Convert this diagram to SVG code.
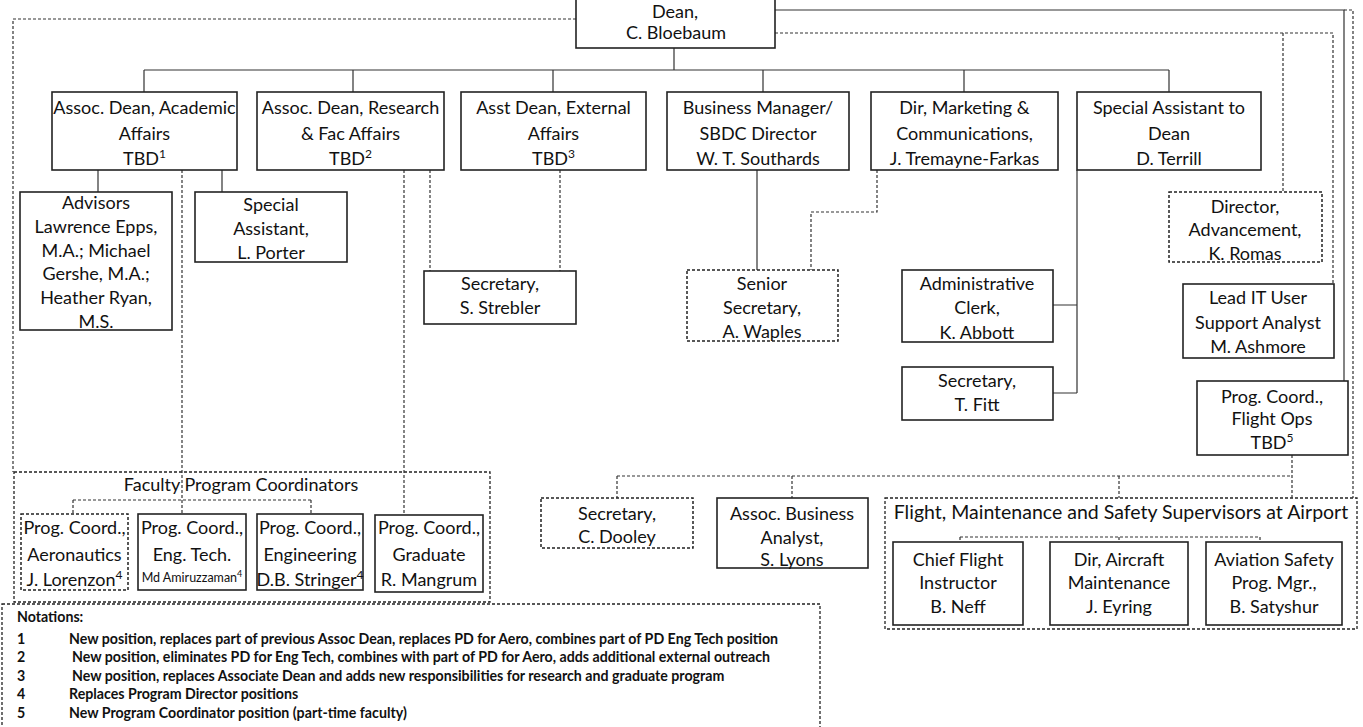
<svg xmlns="http://www.w3.org/2000/svg" width="1363" height="727" viewBox="0 0 1363 727">
<style>
.box{fill:#fff;stroke:#222;stroke-width:1.6}
.dbox{fill:#fff;stroke:#222;stroke-width:1.5;stroke-dasharray:3 2}
.grp{fill:none;stroke:#222;stroke-width:1.3;stroke-dasharray:3 2}
.ln{fill:none;stroke:#333;stroke-width:1.2}
.dl{fill:none;stroke:#333;stroke-width:1.2;stroke-dasharray:3 2}
text{font-family:Lato,"Liberation Sans",sans-serif;fill:#111}
.t{font-size:18px;text-anchor:middle}
.s{font-size:12px}
.n{font-size:14.2px;font-weight:bold}
</style>
<rect width="1363" height="727" fill="#fff"/>
<g id="containers">
<rect id="faculty-group" class="grp" x="14" y="472" width="476" height="130"/>
<rect id="flight-group" class="grp" x="885" y="498" width="472" height="131"/>
<rect id="notations" class="grp" x="2" y="604" width="818" height="140"/>
</g>
<g id="connectors">
<path class="ln" d="M674 48V70M144 70H1169M144 70V92M353 70V92M553 70V92M763 70V92M964 70V92M1169 70V92"/>
<path class="ln" d="M98 170V192M222 170V192M757 170V270M1077 170V393M1053 305H1077M1053 393H1077M775 10H1344V381"/>
<path class="dl" d="M576 19H13V472"/>
<path class="dl" d="M182 170V500M73 500H311M73 500V514M182 500V514M311 500V514"/>
<path class="dl" d="M404 170V515M430 170V271M560 170V271"/>
<path class="dl" d="M877 170V212H811V270"/>
<path class="dl" d="M775 33H1333V284M1283 33V192M1344 10H1353V498"/>
<path class="dl" d="M1292 455V498M617 476H1292M617 476V498M792 476V498M1119 476V498"/>
<path class="dl" d="M960 537H1260M960 537V542M1119 537V542M1260 537V542"/>
</g>
<g id="dean"><rect class="box" x="576" y="-2" width="199" height="50"/>
<text class="t" x="675" y="18">Dean,</text><text class="t" x="676" y="39">C. Bloebaum</text></g>
<g id="academic"><rect class="box" x="52" y="92" width="185" height="78"/>
<text class="t" x="144.5" y="114">Assoc. Dean, Academic</text><text class="t" x="144.5" y="140">Affairs</text><text class="t" x="144.5" y="165">TBD<tspan class="s" dy="-7">1</tspan></text></g>
<g id="research"><rect class="box" x="257" y="92" width="187" height="78"/>
<text class="t" x="350.5" y="114">Assoc. Dean, Research</text><text class="t" x="350.5" y="140">&amp; Fac Affairs</text><text class="t" x="350.5" y="165">TBD<tspan class="s" dy="-7">2</tspan></text></g>
<g id="external"><rect class="box" x="461" y="92" width="185" height="78"/>
<text class="t" x="553.5" y="114">Asst Dean, External</text><text class="t" x="553.5" y="140">Affairs</text><text class="t" x="553.5" y="165">TBD<tspan class="s" dy="-7">3</tspan></text></g>
<g id="business"><rect class="box" x="667" y="92" width="182" height="78"/>
<text class="t" x="758" y="114">Business Manager/</text><text class="t" x="758" y="140">SBDC Director</text><text class="t" x="758" y="165">W. T. Southards</text></g>
<g id="marketing"><rect class="box" x="871" y="92" width="187" height="78"/>
<text class="t" x="964.5" y="114">Dir, Marketing &amp;</text><text class="t" x="964.5" y="140">Communications,</text><text class="t" x="964.5" y="165">J. Tremayne-Farkas</text></g>
<g id="special-assistant-dean"><rect class="box" x="1077" y="92" width="184" height="78"/>
<text class="t" x="1169" y="114">Special Assistant to</text><text class="t" x="1169" y="140">Dean</text><text class="t" x="1169" y="165">D. Terrill</text></g>
<g id="advisors"><rect class="box" x="20" y="192" width="152" height="138"/>
<text class="t" x="96" y="209">Advisors</text><text class="t" x="96" y="233">Lawrence Epps,</text><text class="t" x="96" y="257">M.A.; Michael</text><text class="t" x="96" y="280">Gershe, M.A.;</text><text class="t" x="96" y="304">Heather Ryan,</text><text class="t" x="96" y="328">M.S.</text></g>
<g id="special-assistant-porter"><rect class="box" x="195" y="192" width="152" height="70"/>
<text class="t" x="271" y="211">Special</text><text class="t" x="271" y="235">Assistant,</text><text class="t" x="271" y="259">L. Porter</text></g>
<g id="secretary-strebler"><rect class="box" x="424" y="271" width="152" height="53"/>
<text class="t" x="500" y="290">Secretary,</text><text class="t" x="500" y="314">S. Strebler</text></g>
<g id="senior-secretary"><rect class="dbox" x="687" y="270" width="151" height="71"/>
<text class="t" x="762" y="290">Senior</text><text class="t" x="762" y="314">Secretary,</text><text class="t" x="762" y="338">A. Waples</text></g>
<g id="admin-clerk"><rect class="box" x="902" y="270" width="151" height="72"/>
<text class="t" x="977" y="290">Administrative</text><text class="t" x="977" y="314">Clerk,</text><text class="t" x="977" y="339">K. Abbott</text></g>
<g id="secretary-fitt"><rect class="box" x="902" y="367" width="151" height="53"/>
<text class="t" x="977" y="387">Secretary,</text><text class="t" x="977" y="411">T. Fitt</text></g>
<g id="director-advancement"><rect class="dbox" x="1169" y="192" width="153" height="70"/>
<text class="t" x="1245" y="213">Director,</text><text class="t" x="1245" y="236">Advancement,</text><text class="t" x="1245" y="260">K. Romas</text></g>
<g id="lead-it"><rect class="box" x="1183" y="284" width="151" height="74"/>
<text class="t" x="1258" y="304">Lead IT User</text><text class="t" x="1258" y="329">Support Analyst</text><text class="t" x="1258" y="353">M. Ashmore</text></g>
<g id="flight-ops"><rect class="box" x="1197" y="381" width="151" height="74"/>
<text class="t" x="1272" y="403">Prog. Coord.,</text><text class="t" x="1272" y="425">Flight Ops</text><text class="t" x="1272" y="449">TBD<tspan class="s" dy="-7">5</tspan></text></g>
<g id="faculty-title"><text class="t" x="241" y="491">Faculty Program Coordinators</text></g>
<g id="pc-aero"><rect class="dbox" x="21" y="514" width="107" height="76"/>
<text class="t" x="74.5" y="534">Prog. Coord.,</text><text class="t" x="74.5" y="561">Aeronautics</text><text class="t" x="74.5" y="586">J. Lorenzon<tspan class="s" dy="-7">4</tspan></text></g>
<g id="pc-engtech"><rect class="box" x="138" y="514" width="108" height="76"/>
<text class="t" x="192" y="534">Prog. Coord.,</text><text class="t" x="192" y="561">Eng. Tech.</text><text x="192" y="582" text-anchor="middle" font-size="12.5">Md Amiruzzaman<tspan font-size="9" dy="-5">4</tspan></text></g>
<g id="pc-eng"><rect class="box" x="257" y="514" width="106" height="76"/>
<text class="t" x="310" y="534">Prog. Coord.,</text><text class="t" x="310" y="561">Engineering</text><text class="t" x="310" y="586">D.B. Stringer<tspan class="s" dy="-7">4</tspan></text></g>
<g id="pc-grad"><rect class="box" x="375" y="515" width="108" height="77"/>
<text class="t" x="429" y="534">Prog. Coord.,</text><text class="t" x="429" y="561">Graduate</text><text class="t" x="429" y="586">R. Mangrum</text></g>
<g id="secretary-dooley"><rect class="dbox" x="541" y="498" width="152" height="50"/>
<text class="t" x="617" y="520">Secretary,</text><text class="t" x="617" y="543">C. Dooley</text></g>
<g id="assoc-business"><rect class="box" x="717" y="498" width="151" height="70"/>
<text class="t" x="792" y="520">Assoc. Business</text><text class="t" x="792" y="544">Analyst,</text><text class="t" x="792" y="566">S. Lyons</text></g>
<g id="flight-title"><text class="t" x="1121" y="519" style="font-size:19.5px">Flight, Maintenance and Safety Supervisors at Airport</text></g>
<g id="chief-flight"><rect class="box" x="893" y="542" width="130" height="83"/>
<text class="t" x="958" y="566">Chief Flight</text><text class="t" x="958" y="589">Instructor</text><text class="t" x="958" y="613">B. Neff</text></g>
<g id="dir-aircraft"><rect class="box" x="1050" y="542" width="138" height="83"/>
<text class="t" x="1119" y="566">Dir, Aircraft</text><text class="t" x="1119" y="589">Maintenance</text><text class="t" x="1119" y="613">J. Eyring</text></g>
<g id="aviation-safety"><rect class="box" x="1206" y="542" width="136" height="83"/>
<text class="t" x="1274" y="566">Aviation Safety</text><text class="t" x="1274" y="589">Prog. Mgr.,</text><text class="t" x="1274" y="613">B. Satyshur</text></g>
<g id="notation-text">
<text class="n" x="17" y="622">Notations:</text>
<text class="n" x="17" y="644">1</text><text class="n" x="69" y="644">New position, replaces part of previous Assoc Dean, replaces PD for Aero, combines part of PD Eng Tech position</text>
<text class="n" x="17" y="662">2</text><text class="n" x="72" y="662">New position, eliminates PD for Eng Tech, combines with part of PD for Aero, adds additional external outreach</text>
<text class="n" x="17" y="681">3</text><text class="n" x="72" y="681">New position, replaces Associate Dean and adds new responsibilities for research and graduate program</text>
<text class="n" x="17" y="699">4</text><text class="n" x="69" y="699">Replaces Program Director positions</text>
<text class="n" x="17" y="718">5</text><text class="n" x="69" y="718">New Program Coordinator position (part-time faculty)</text>
</g>
</svg>
